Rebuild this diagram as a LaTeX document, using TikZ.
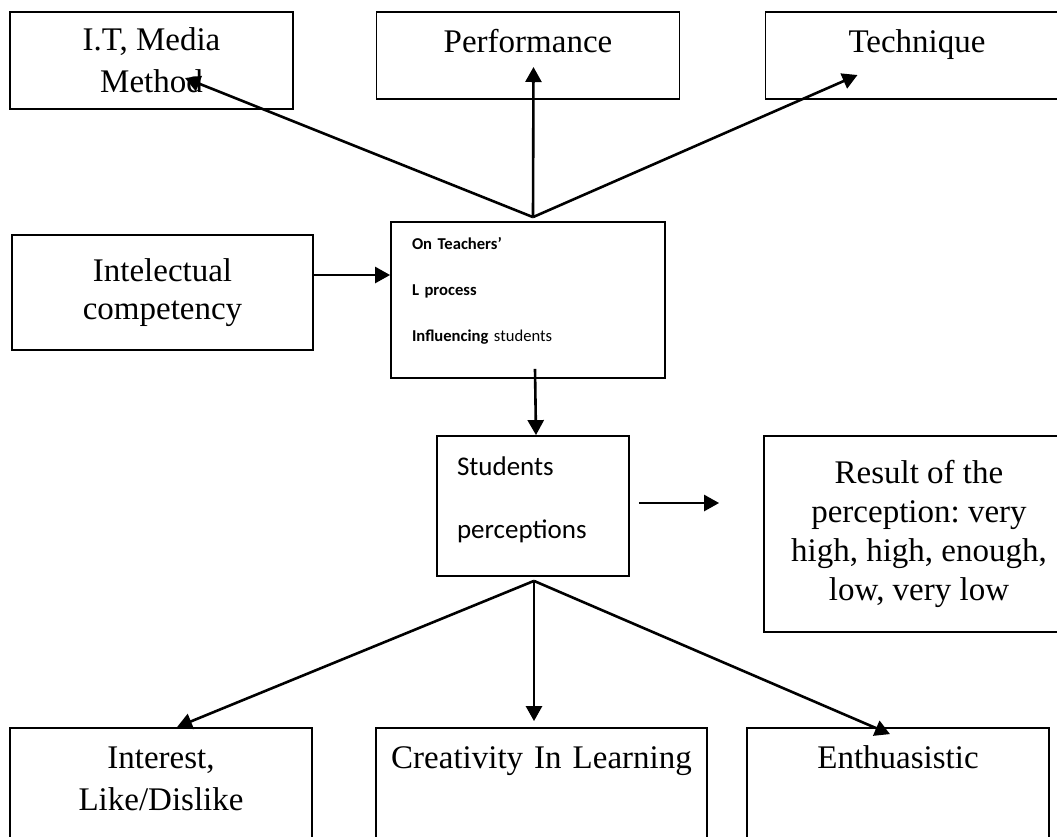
\documentclass[tikz,border=0pt]{standalone}
\usepackage{fontspec}
\setmainfont{Liberation Serif}
\newfontfamily\carlito{Carlito}
\usetikzlibrary{arrows.meta,positioning}
\frenchspacing

\begin{document}
\begin{tikzpicture}[on grid,
    box/.style={draw,line width=0.9pt,inner sep=0pt,align=center,
                font=\fontsize{16.5}{19.5}\selectfont},
    topbox/.style={box,text width=#1,minimum width=#1},
    link/.style={-{Triangle[length=7.5pt,width=8pt]},line width=1.3pt}]
    \useasboundingbox (0,0) rectangle (528.5pt,-418.5pt);
    \clip (0,0) rectangle (528.5pt,-418.5pt);

    \node[box,align=left,text width=116pt,inner xsep=10.5pt,text height=13.5pt,text depth=64.5pt,
          font=\carlito\fontsize{8.3}{23}\selectfont] (teach) at (264pt,-150pt)
        {\textbf{On Teachers’}\\\textbf{L process}\\\textbf{Influencing} students};
    \node[box,minimum width=141.5pt,minimum height=48.5pt,font=\fontsize{16.5}{21}\selectfont]
        (itm) [above left=119.75pt and 188.25pt of teach] {I.T, Media\\Method};
    \node[topbox=151.5pt,text height=20pt,text depth=23.5pt] (perf) [above=122.25pt of teach] {Performance};
    \node[topbox=151.5pt,text height=20pt,text depth=23.5pt] (tech) [right=194.5pt of perf] {Technique};
    \node[box,minimum width=150.5pt,minimum height=57.5pt,font=\fontsize{16.5}{19}\selectfont]
        (intel) [above left=3.75pt and 182.75pt of teach] {Intelectual\\competency};
    \node[box,align=left,text width=76pt,inner xsep=10pt,text height=19.5pt,text depth=50.5pt,
          font=\carlito\fontsize{13.5}{31.5}\selectfont] (stud) [below right=103pt and 2.5pt of teach]
        {Students\\perceptions};
    \node[box,minimum width=155pt,minimum height=98pt] (result) [below right=14pt and 193pt of stud]
        {Result of the\\perception: very\\high, high, enough,\\low, very low};
    \node[topbox=151pt,text height=20pt,text depth=56pt,font=\fontsize{16.5}{21}\selectfont]
        (interest) [below left=149pt and 186pt of stud] {Interest,\\Like/Dislike};
    \node[topbox=165.5pt,text height=20pt,text depth=56pt] (creat) [right=190.25pt of interest]
        {Creativity In Learning};
    \node[topbox=151pt,text height=20pt,text depth=56pt] (enth) [right=178.25pt of creat] {Enthuasistic};

    % upper fan
    \coordinate (fan) at ([xshift=2.5pt,yshift=2pt]teach.north);
    \draw[link] (fan) -- ([xshift=16.75pt,yshift=-8.75pt]itm.center);
    \draw[link] (fan) -- ([xshift=2.75pt,yshift=-5.75pt]perf.center);
    \draw[link] (fan) -- ([xshift=-29.75pt,yshift=-9.75pt]tech.center);
    \draw[link] ([yshift=8.75pt]intel.east) -- ([yshift=12.5pt]teach.west);
    \draw[link] ([xshift=3.5pt,yshift=5pt]teach.south) -- ([xshift=1.5pt]stud.north);
    \draw[link] ([xshift=4.5pt,yshift=1.5pt]stud.east) -- ([xshift=-22pt,yshift=15.5pt]result.west);

    % lower fan
    \coordinate (root) at ([xshift=0.5pt,yshift=-2pt]stud.south);
    \draw[link] (root) -- ([xshift=8pt]interest.north);
    \draw[link] (root) -- ([xshift=-3.75pt,yshift=3pt]creat.north);
    \draw[link] (root) -- ([xshift=-4pt,yshift=-3.5pt]enth.north);
\end{tikzpicture}
\end{document}
